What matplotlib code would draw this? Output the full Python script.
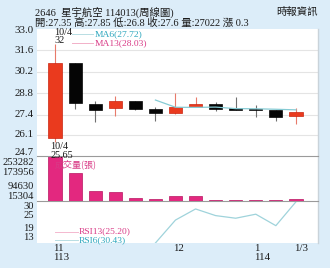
import matplotlib
matplotlib.use('Agg')
import matplotlib.pyplot as plt
from matplotlib.patches import Rectangle
import numpy as np

# ---------------- data ----------------
opens  = [25.90, 30.77, 28.10, 27.82, 28.28, 27.76, 27.49, 27.93, 28.12, 27.82, 27.73, 27.71, 27.35]
closes = [30.77, 28.15, 27.70, 28.28, 27.76, 27.50, 27.93, 28.10, 27.80, 27.70, 27.73, 27.28, 27.60]
highs  = [32.00, 30.80, 28.28, 28.65, 28.30, 27.89, 28.80, 28.55, 28.25, 28.55, 28.04, 27.72, 27.85]
lows   = [25.65, 27.80, 26.91, 27.35, 27.72, 26.97, 27.45, 27.93, 27.67, 27.69, 27.28, 26.99, 26.80]
ma6    = [np.nan, np.nan, np.nan, np.nan, np.nan, 28.36, 27.89, 27.88, 27.90, 27.80, 27.79, 27.76, 27.72]
volume = [253282, 160000, 56600, 50800, 17500, 10000, 27400, 27400, 5800, 5800, 2300, 5800, 12000]
rsi6   = [np.nan, np.nan, np.nan, np.nan, np.nan, 10.0, 21.4, 26.9, 23.6, 22.3, 24.3, 18.6, 30.43]

price_ticks = [24.7, 26.1, 27.4, 28.8, 30.2, 31.6, 33.0]
vol_ticks = [15304, 94630, 173956, 253282]
rsi_ticks = [13, 19, 25, 30]
x_tick_pos = [0, 6, 10, 12]
x_tick_labels = ['11\n113', '12', '1\n114', '1/3']

title_line1 = '2646  星宇航空 114013(周線圖)'
title_line2 = '開:27.35 高:27.85 低:26.8 收:27.6 量:27022 漲 0.3'
source = '時報資訊'

# ---------------- style ----------------
W, H = 330, 268
BG = '#dcedf9'
UP = '#ea3a1e'
UP_EDGE = '#c92410'
DOWN = '#050505'
VOLC = '#e3287f'
VOL_EDGE = '#b81462'
TEAL = '#2ba6bd'
MAGENTA = '#d93a86'
TXT = '#1a1a1a'
NUM_FONT = ['Liberation Serif', 'Noto Sans CJK TC']

fig = plt.figure(figsize=(W / 100, H / 100), dpi=100)
fig.patch.set_facecolor(BG)

def rect(x0, x1, y0, y1):
    return [x0 / W, 1 - y1 / H, (x1 - x0) / W, (y1 - y0) / H]

L, R = 37, 318
TOP, P_BOT, V_BOT, R_BOT = 28.75, 156.25, 200.7, 243

fig.add_artist(Rectangle((L / W, 1 - R_BOT / H), (R - L) / W, (R_BOT - TOP) / H,
                         transform=fig.transFigure, facecolor='white', edgecolor='none', zorder=-10))

ax1 = fig.add_axes(rect(L, R, TOP, P_BOT))
ax2 = fig.add_axes(rect(L, R, P_BOT, V_BOT))
ax3 = fig.add_axes(rect(L, R, V_BOT, R_BOT))
ax1.set_zorder(3)
ax2.set_zorder(2)
ax3.set_zorder(1)

n = len(opens)
idx = np.arange(n)
XL = (-0.9, 13.1)

for ax in (ax1, ax2, ax3):
    ax.set_facecolor('none')
    ax.set_xlim(*XL)
    ax.set_xticks([])
    ax.set_yticks([])
    for s in ('top', 'left'):
        ax.spines[s].set_visible(False)
    ax.spines['right'].set_color('#c9d3da')
    ax.spines['right'].set_linewidth(1.0)
    ax.spines['bottom'].set_visible(False)

for ax in (ax1, ax2):
    ax.spines['bottom'].set_visible(True)
    ax.spines['bottom'].set_color('#9a9a9a')
    ax.spines['bottom'].set_linewidth(0.8)

# ---------------- price panel ----------------
ax1.set_ylim(24.7, 33.0)
for v in price_ticks[1:-1]:
    ax1.axhline(v, color='#e4e4e4', lw=0.8, zorder=0)

bw = 0.66
for i in range(n):
    o, c, h, l = opens[i], closes[i], highs[i], lows[i]
    up = c > o
    col = UP if up else DOWN
    ec = UP_EDGE if up else DOWN
    wick = '#e87a6a' if up else '#707070'
    ax1.vlines(i, l, h, color=wick, lw=0.8, zorder=2)
    bottom = min(o, c)
    height = max(abs(c - o), 0.035)
    ax1.bar(i, height, bottom=bottom, width=bw, color=col, edgecolor=ec, lw=0.5, zorder=3)

ax1.plot(idx, ma6, color='#86cbd4', lw=0.9, zorder=4)

ytr = ax1.get_yaxis_transform()
for k, v in enumerate(price_ticks):
    dy = 0
    if k == 0:
        dy = 3.0
    elif k == len(price_ticks) - 1:
        dy = -1.5
    ax1.annotate(f'{v:.1f}', xy=(-0.012, v), xycoords=ytr, xytext=(0, dy), textcoords='offset points',
                 ha='right', va='center', fontsize=7.8, family=NUM_FONT, color=TXT, annotation_clip=False)

# high / low annotations
ax1.annotate(f'10/4\n{highs[0]:g}', xy=(0, highs[0]), xytext=(-0.5, -0.5), textcoords='offset points',
             ha='left', va='bottom', fontsize=7.3, family=NUM_FONT, color=TXT, linespacing=0.9,
             annotation_clip=False, zorder=6)
ax1.annotate(f'10/4\n{lows[0]:g}', xy=(0, lows[0]), xytext=(-3.5, -0.5), textcoords='offset points',
             ha='left', va='top', fontsize=7.3, family=NUM_FONT, color=TXT, linespacing=0.9,
             annotation_clip=False, zorder=6)

# MA legend
def fx(px):
    return (px - L) / (R - L)
def fy1(py):
    return 1 - (py - TOP) / (P_BOT - TOP)
ax1.plot([fx(72), fx(93)], [fy1(34.5), fy1(34.5)], transform=ax1.transAxes, color='#b8dde3', lw=0.7, clip_on=False)
ax1.plot([fx(72), fx(93)], [fy1(43), fy1(43)], transform=ax1.transAxes, color='#f2b0c8', lw=0.7, clip_on=False)
ax1.text(fx(95), fy1(34.5), 'MA6(27.72)', transform=ax1.transAxes, ha='left', va='center',
         fontsize=6.8, family=NUM_FONT, color=TEAL)
ax1.text(fx(95), fy1(43), 'MA13(28.03)', transform=ax1.transAxes, ha='left', va='center',
         fontsize=6.8, family=NUM_FONT, color=MAGENTA)

# ---------------- volume panel ----------------
ax2.set_ylim(0, vol_ticks[-1])
ax2.bar(idx, volume, width=bw, color=VOLC, edgecolor=VOL_EDGE, lw=0.5, zorder=3)
ytr2 = ax2.get_yaxis_transform()
vol_offsets = {15304: 1.2, 94630: -1.5, 173956: -1.5, 253282: -4.2}
for v in vol_ticks:
    ax2.annotate(f'{v}', xy=(-0.012, v), xycoords=ytr2, xytext=(0, vol_offsets[v]), textcoords='offset points',
                 ha='right', va='center', fontsize=7.6, family=NUM_FONT, color=TXT, annotation_clip=False)
fy2 = lambda py: 1 - (py - P_BOT) / (V_BOT - P_BOT)
ax2.text(fx(55), fy2(164.5), '成交量(張)', transform=ax2.transAxes, ha='left', va='center',
         fontsize=6.5, family=['Noto Sans CJK TC', 'DejaVu Sans'], color=MAGENTA, zorder=6)

# ---------------- RSI panel ----------------
ax3.set_ylim(10, 31)
ax3.plot(idx, rsi6, color='#9fd3db', lw=0.9, zorder=3)
ytr3 = ax3.get_yaxis_transform()
rsi_offsets = {30: -2.4, 25: -1.8, 19: -2.5, 13: -0.3}
for v in rsi_ticks:
    ax3.annotate(f'{v}', xy=(-0.012, v), xycoords=ytr3, xytext=(0, rsi_offsets[v]), textcoords='offset points',
                 ha='right', va='center', fontsize=7.6, family=NUM_FONT, color=TXT, annotation_clip=False)
fy3 = lambda py: 1 - (py - V_BOT) / (R_BOT - V_BOT)
ax3.plot([fx(55), fx(78)], [fy3(231.5), fy3(231.5)], transform=ax3.transAxes, color='#f4b8cf', lw=0.7)
ax3.plot([fx(55), fx(78)], [fy3(240), fy3(240)], transform=ax3.transAxes, color='#b8dde3', lw=0.7)
ax3.text(fx(79), fy3(231.5), 'RSI13(25.20)', transform=ax3.transAxes, ha='left', va='center',
         fontsize=6.8, family=NUM_FONT, color=MAGENTA)
ax3.text(fx(79), fy3(240), 'RSI6(30.43)', transform=ax3.transAxes, ha='left', va='center',
         fontsize=6.8, family=NUM_FONT, color=TEAL)

xtr = ax3.get_xaxis_transform()
for p, lab in zip(x_tick_pos, x_tick_labels):
    ax3.annotate(lab, xy=(p, 0), xycoords=xtr, xytext=(-1.5, -0.8), textcoords='offset points',
                 ha='left', va='top', fontsize=7.8, family=NUM_FONT, color=TXT, linespacing=1.0,
                 annotation_clip=False)

# ---------------- header ----------------
fig.text(35 / W, 1 - 12 / H, title_line1, ha='left', va='center', fontsize=7.5,
         family=NUM_FONT, color=TXT)
fig.text(35 / W, 1 - 22.5 / H, title_line2, ha='left', va='center', fontsize=7.5,
         family=NUM_FONT, color=TXT)
fig.text(318 / W, 1 - 12 / H, source, ha='right', va='center', fontsize=7.5,
         family=['Noto Sans CJK TC', 'DejaVu Sans'], color=TXT)

fig.savefig('out.png', dpi=100, facecolor=BG)
